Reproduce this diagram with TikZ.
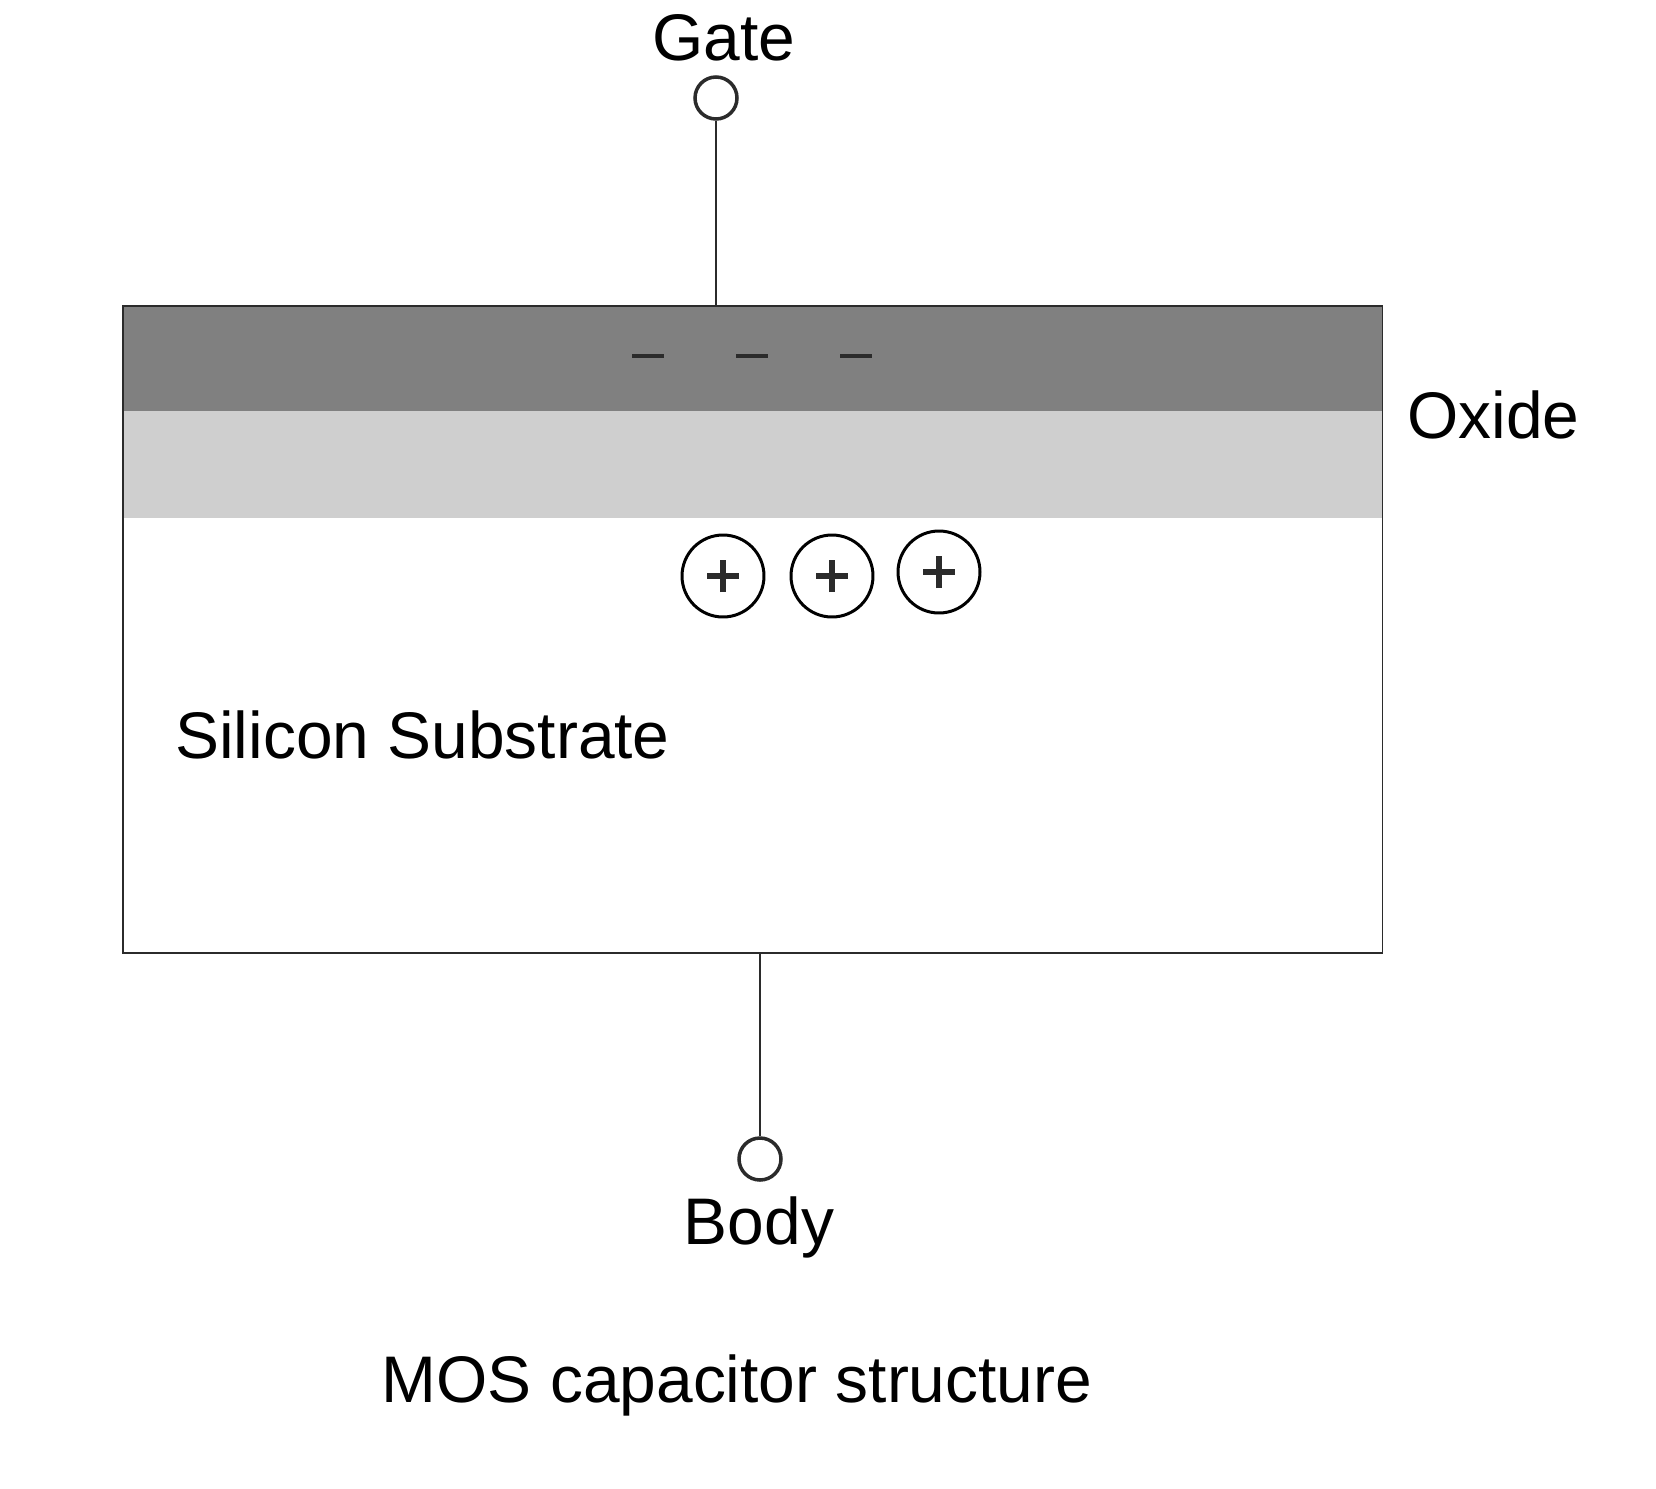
\documentclass[tikz,border=0pt]{standalone}
\usepackage{fontspec}
\setmainfont{Liberation Sans}
\usepackage{xcolor}
\definecolor{gate-grey}{HTML}{808080}
\definecolor{oxide-grey}{HTML}{CFCFCF}
\definecolor{edge-dark}{HTML}{2B2B2B}

\begin{document}
\begin{tikzpicture}[x=0.02cm, y=-0.02cm,
    every node/.style={font=\fontsize{37.5}{45}\selectfont, inner sep=0pt},
    pin/.style={draw=edge-dark, circle, line width=2pt, minimum size=0.84cm},
    hole/.style={draw=black, circle, line width=1.7pt, minimum size=1.64cm}]
  \path[use as bounding box] (0,0) rectangle (1656,1488);
  % layer stack
  \node[fill=gate-grey, anchor=north west, minimum width=25.18cm, minimum height=2.1cm] (gate) at (123,306) {};
  \node[fill=oxide-grey, anchor=north west, minimum width=25.18cm, minimum height=2.14cm] (oxide) at (123,411) {};
  \node[fill=white, anchor=north west, minimum width=25.18cm, minimum height=8.68cm] (substrate) at (123,518) {};
  \draw[edge-dark, line width=1.1pt] (gate.north west) rectangle (substrate.south east);
  % terminals
  \node[pin] (gatepin) at (716,98) {};
  \node[pin] (bodypin) at (760,1159) {};
  \draw[edge-dark, line width=1.5pt] (gatepin) -- (gatepin |- gate.north);
  \draw[edge-dark, line width=1.5pt] (bodypin) -- (bodypin |- substrate.south);
  % charges
  \foreach \x in {648,752,856}
    \draw[edge-dark, line width=2.6pt] (\x-16,356) -- (\x+16,356);
  \foreach \x/\y/\n in {723/576/1, 832/576/2, 939/572/3} {
    \node[hole] (hole\n) at (\x,\y) {};
    \draw[edge-dark, line width=3pt] ([xshift=-0.32cm]hole\n.center) -- ([xshift=0.32cm]hole\n.center)
      ([yshift=-0.32cm]hole\n.center) -- ([yshift=0.32cm]hole\n.center);
  }
  % labels
  \node[anchor=base] (gatelabel) at (724,60) {Gate};
  \node[anchor=base west] (oxidelabel) at (1407,438) {Oxide};
  \node[anchor=base west] (sublabel) at (175,758) {Silicon Substrate};
  \node[anchor=base] (bodylabel) at (759,1244) {Body};
  \node[anchor=base] (caption) at (737,1402) {MOS capacitor structure};
\end{tikzpicture}
\end{document}
